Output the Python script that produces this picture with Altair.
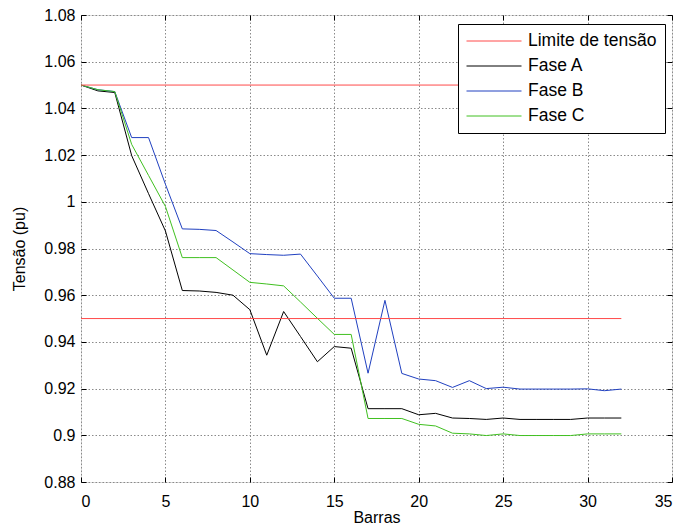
import altair as alt
import pandas as pd

barras = list(range(33))

fase_a = [1.0500, 1.0475, 1.0468, 1.0198, 1.0035, 0.9875, 0.9620, 0.9618, 0.9612, 0.9600,
          0.9538, 0.9343, 0.9530, 0.9423, 0.9315, 0.9380, 0.9373, 0.9114, 0.9114, 0.9114,
          0.9088, 0.9094, 0.9074, 0.9072, 0.9068, 0.9074, 0.9068, 0.9068, 0.9068, 0.9068,
          0.9074, 0.9074, 0.9074]
fase_b = [1.0500, 1.0480, 1.0472, 1.0275, 1.0275, 1.0075, 0.9884, 0.9882, 0.9877, 0.9828,
          0.9778, 0.9774, 0.9771, 0.9776, 0.9682, 0.9587, 0.9587, 0.9266, 0.9578, 0.9265,
          0.9241, 0.9234, 0.9205, 0.9234, 0.9200, 0.9206, 0.9198, 0.9198, 0.9198, 0.9198,
          0.9199, 0.9191, 0.9198]
fase_c = [1.0500, 1.0480, 1.0472, 1.0246, 1.0113, 0.9980, 0.9761, 0.9761, 0.9761, 0.9708,
          0.9655, 0.9648, 0.9640, 0.9571, 0.9501, 0.9432, 0.9432, 0.9072, 0.9072, 0.9072,
          0.9047, 0.9040, 0.9009, 0.9006, 0.8999, 0.9006, 0.8999, 0.8999, 0.8999, 0.8999,
          0.9006, 0.9006, 0.9006]

limite_x = [0, 32]
limite_niveis = [1.05, 0.95]

series = ["Limite de tensão", "Fase A", "Fase B", "Fase C"]
cores = ["#ff4a4a", "#000000", "#2040c0", "#40c020"]

x_ticks = [0, 5, 10, 15, 20, 25, 30, 35]
y_ticks = [0.88, 0.90, 0.92, 0.94, 0.96, 0.98, 1.00, 1.02, 1.04, 1.06, 1.08]

rows = []
for nome, vals in [("Fase A", fase_a), ("Fase B", fase_b), ("Fase C", fase_c)]:
    for b, v in zip(barras, vals):
        rows.append({"barra": b, "tensao": v, "serie": nome, "grupo": nome})
df_fases = pd.DataFrame(rows)

lim_rows = []
for i, nivel in enumerate(limite_niveis):
    for xv in limite_x:
        lim_rows.append({"barra": xv, "tensao": nivel, "serie": "Limite de tensão", "grupo": f"lim{i}"})
df_lim = pd.DataFrame(lim_rows)

xscale = alt.Scale(domain=[0, 35], nice=False, zero=False)
yscale = alt.Scale(domain=[0.88, 1.08], nice=False, zero=False)
cscale = alt.Scale(domain=series, range=cores)

legend = alt.Legend(
    title=None, orient="none", legendX=377, legendY=9,
    strokeColor="black", fillColor="white", padding=8,
    symbolType="stroke", symbolSize=3025, symbolStrokeWidth=1,
    labelFontSize=17.5, labelFont="Liberation Sans", labelColor="black",
    labelOffset=6, rowPadding=7, clipHeight=18, cornerRadius=0,
)

grid_axis_common = dict(
    grid=True, gridColor="#8a8a8a", gridDash=[1.5, 2], gridWidth=1,
    ticks=False, domain=False, labelFontSize=16, labelColor="black",
    labelFont="Liberation Sans", titleFont="Liberation Sans",
    titleFontSize=16, titleFontWeight="normal", titleColor="black",
)

x_main = alt.X("barra:Q", scale=xscale, axis=alt.Axis(
    orient="bottom", values=x_ticks, title="Barras", labelPadding=11,
    titleY=40, titleBaseline="alphabetic", **grid_axis_common))
y_main = alt.Y("tensao:Q", scale=yscale, axis=alt.Axis(
    orient="left", values=y_ticks, format="~g", title="Tensão (pu)",
    labelPadding=6, titlePadding=16, **grid_axis_common))

tick_common = dict(grid=False, labels=False, domain=False, ticks=True,
                   tickSize=5, tickColor="black", tickWidth=1, title=None, offset=-5)

fases = alt.Chart(df_fases).mark_line(strokeWidth=1).encode(
    x=x_main, y=y_main,
    color=alt.Color("serie:N", scale=cscale, legend=legend),
    detail="grupo:N",
)

limites = alt.Chart(df_lim).mark_line(strokeWidth=1).encode(
    x=alt.X("barra:Q", scale=xscale, axis=alt.Axis(orient="bottom", values=x_ticks, **tick_common)),
    y=alt.Y("tensao:Q", scale=yscale, axis=alt.Axis(orient="left", values=y_ticks, **tick_common)),
    color=alt.Color("serie:N", scale=cscale, legend=legend),
    detail="grupo:N",
)

topo = alt.Chart(df_lim).mark_line(opacity=0).encode(
    x=alt.X("barra:Q", scale=xscale, axis=alt.Axis(orient="top", values=x_ticks, **tick_common)),
    y=alt.Y("tensao:Q", scale=yscale, axis=alt.Axis(orient="right", values=y_ticks, **tick_common)),
    detail="grupo:N",
)

chart = alt.layer(fases, limites, topo).resolve_axis(
    x="independent", y="independent"
).properties(
    width=591, height=467,
    autosize=alt.AutoSizeParams(type="none"),
    padding={"left": 73, "top": 7, "right": 4, "bottom": 42},
    background="white",
).configure_view(
    stroke="black", strokeWidth=1
).configure(font="Liberation Sans")

chart.save("out.html", embed_options={"renderer": "svg", "actions": False})
